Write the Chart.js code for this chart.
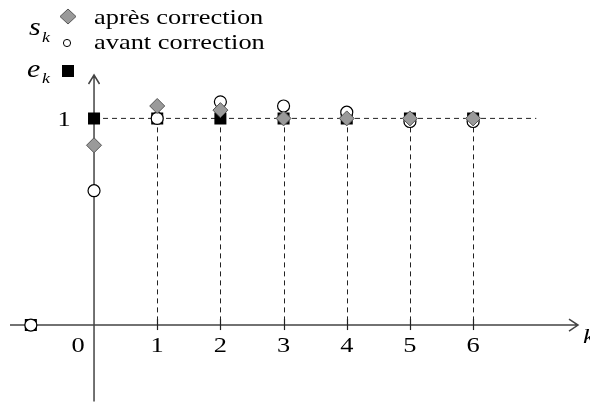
<!DOCTYPE html>
<html>
<head>
<meta charset="utf-8">
<script src="https://cdn.jsdelivr.net/npm/chart.js@4/dist/chart.umd.min.js"></script>
<style>
  body { margin: 0; background: #fff; }
  .preload { position: absolute; left: -999px; top: 0; font-family: "Liberation Serif"; font-size: 22px; }
</style>
</head>
<body>
<span class="preload">après <i>k</i></span>
<canvas id="chart" width="590" height="410"></canvas>
<script>
/*==== data ====*/
const kValues = [-1, 0, 1, 2, 3, 4, 5, 6];
const ekValues = [0, 1, 1, 1, 1, 1, 1, 1];
const skApres = [null, 0.87, 1.06, 1.04, 1.0, 1.0, 1.0, 1.0];
const skAvant = [0, 0.65, 1.0, 1.08, 1.06, 1.03, 0.985, 0.985];
const xTickValues = [0, 1, 2, 3, 4, 5, 6];
const xTickLabels = ['0', '1', '2', '3', '4', '5', '6'];
const yTickValues = [1];
const yTickLabels = ['1'];
const legendLabels = ['après correction', 'avant correction'];

function toPoints(ys) {
    return kValues.map(function (k, i) {
        return { x: k, y: ys[i] };
    });
}

const SERIF = '"Liberation Serif", "Times New Roman", Tinos, serif';
const STRETCH = 1.2;

// text in the original looks a bit wider than plain Times
function drawText(ctx, str, x, y, size, italic, align) {
    ctx.save();
    ctx.font = (italic ? 'italic ' : '') + size + 'px ' + SERIF;
    ctx.fillStyle = '#000';
    ctx.textAlign = align || 'left';
    ctx.textBaseline = 'alphabetic';
    ctx.translate(x, y);
    ctx.scale(STRETCH, 1);
    ctx.fillText(str, 0, 0);
    ctx.restore();
}

/*==== axes, guides ====*/
const axesPlugin = {
    id: 'axesPlugin',
    beforeDatasetsDraw(chart) {
        const ctx = chart.ctx;
        const xs = chart.scales.x, ys = chart.scales.y;
        const area = chart.chartArea;
        const x0 = xs.getPixelForValue(0), y0 = ys.getPixelForValue(0);
        const y1 = ys.getPixelForValue(1);

        // dashed guides
        ctx.save();
        ctx.strokeStyle = '#222';
        ctx.lineWidth = 1;
        ctx.setLineDash([5, 4]);
        ctx.beginPath();
        ctx.moveTo(x0, y1);
        ctx.lineTo(xs.getPixelForValue(7), y1);
        ctx.stroke();
        xTickValues.forEach(function (v) {
            if (v === 0) return;
            const px = Math.round(xs.getPixelForValue(v)) + 0.5;
            ctx.beginPath();
            ctx.moveTo(px, y1);
            ctx.lineTo(px, y0);
            ctx.stroke();
        });
        ctx.restore();

        // axes with open arrow heads
        ctx.save();
        ctx.strokeStyle = '#444';
        ctx.lineWidth = 1.5;
        ctx.beginPath();
        ctx.moveTo(area.left, y0);
        ctx.lineTo(area.right, y0);
        ctx.moveTo(area.right - 9, y0 - 6);
        ctx.lineTo(area.right, y0);
        ctx.lineTo(area.right - 9, y0 + 6);
        ctx.moveTo(x0, area.bottom);
        ctx.lineTo(x0, area.top);
        ctx.moveTo(x0 - 5.5, area.top + 9);
        ctx.lineTo(x0, area.top);
        ctx.lineTo(x0 + 5.5, area.top + 9);
        ctx.stroke();
        ctx.lineWidth = 1.2;
        ctx.strokeStyle = '#222';
        xTickValues.forEach(function (v) {
            if (v === 0) return;
            const px = Math.round(xs.getPixelForValue(v)) + 0.5;
            ctx.beginPath();
            ctx.moveTo(px, y0 - 6);
            ctx.lineTo(px, y0 + 5);
            ctx.stroke();
        });
        ctx.restore();
    },
    afterDraw(chart) {
        const ctx = chart.ctx;
        const xs = chart.scales.x, ys = chart.scales.y;
        const area = chart.chartArea;
        const y0 = ys.getPixelForValue(0);

        // tick labels
        xTickValues.forEach(function (v, i) {
            let px = xs.getPixelForValue(v);
            if (v === 0) px -= 16;
            drawText(ctx, xTickLabels[i], px, y0 + 27, 22, false, 'center');
        });
        yTickValues.forEach(function (v, i) {
            drawText(ctx, yTickLabels[i], xs.getPixelForValue(0) - 30, ys.getPixelForValue(v) + 8, 22, false, 'center');
        });
        drawText(ctx, 'k', area.right + 5, y0 + 18, 22, true, 'left');

        // legend: s_k / e_k
        drawText(ctx, 's', 29, 35, 25, true, 'left');
        drawText(ctx, 'k', 42, 42, 15, true, 'left');
        drawText(ctx, 'e', 27, 77, 25, true, 'left');
        drawText(ctx, 'k', 42, 83, 15, true, 'left');

        ctx.save();
        // diamond
        ctx.fillStyle = '#9a9a9a';
        ctx.strokeStyle = '#555';
        ctx.lineWidth = 1;
        ctx.beginPath();
        ctx.moveTo(68, 9);
        ctx.lineTo(76, 16.5);
        ctx.lineTo(68, 24);
        ctx.lineTo(60, 16.5);
        ctx.closePath();
        ctx.fill();
        ctx.stroke();
        // circle
        ctx.fillStyle = '#fff';
        ctx.strokeStyle = '#000';
        ctx.beginPath();
        ctx.arc(67, 43, 3.6, 0, Math.PI * 2);
        ctx.fill();
        ctx.stroke();
        // square
        ctx.fillStyle = '#000';
        ctx.fillRect(62, 65, 12, 12);
        ctx.restore();

        drawText(ctx, legendLabels[0], 94, 24, 22, false, 'left');
        drawText(ctx, legendLabels[1], 94, 49, 22, false, 'left');
    }
};

/*==== config ====*/
const config = {
    type: 'scatter',
    data: {
        datasets: [
            {
                label: legendLabels[0],
                data: toPoints(skApres),
                pointStyle: 'rectRot',
                pointRadius: 7.5,
                backgroundColor: '#9a9a9a',
                borderColor: '#555',
                borderWidth: 1
            },
            {
                label: legendLabels[1],
                data: toPoints(skAvant),
                pointStyle: 'circle',
                pointRadius: 6,
                backgroundColor: '#fff',
                borderColor: '#000',
                borderWidth: 1.2
            },
            {
                label: 'e_k',
                data: toPoints(ekValues),
                pointStyle: 'rect',
                pointRadius: 8.5,
                backgroundColor: '#000',
                borderColor: '#000',
                borderWidth: 0
            }
        ]
    },
    options: {
        responsive: false,
        animation: false,
        layout: { padding: { left: 10, right: 12, top: 75, bottom: 2 } },
        scales: {
            x: { type: 'linear', min: -1.33, max: 7.66, display: false },
            y: { type: 'linear', min: -0.37, max: 1.21, display: false }
        },
        plugins: {
            legend: { display: false },
            tooltip: { enabled: false }
        }
    },
    plugins: [axesPlugin]
};

/*===== render =====*/
Promise.all([
    document.fonts.load('22px "Liberation Serif"'),
    document.fonts.load('italic 22px "Liberation Serif"')
]).then(function () {
    new Chart(document.getElementById('chart'), config);
});
</script>
</body>
</html>
